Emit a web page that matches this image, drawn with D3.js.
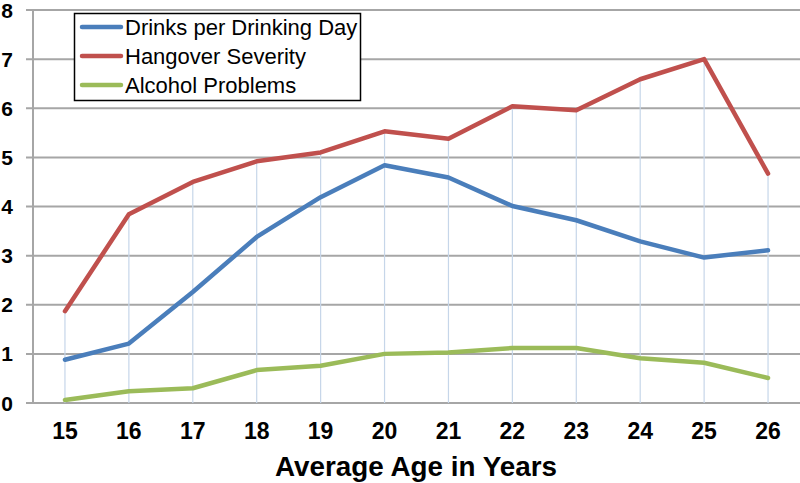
<!DOCTYPE html>
<html>
<head>
<meta charset="utf-8">
<script src="https://cdn.jsdelivr.net/npm/d3@7"></script>
<style>
  body { margin: 0; background: #fff; }
  svg { display: block; font-family: "Liberation Sans", Arial, sans-serif; }
</style>
</head>
<body>
<svg width="800" height="483"></svg>
<script>
// Chart data
const ages = [15, 16, 17, 18, 19, 20, 21, 22, 23, 24, 25, 26];
const drinksPerDay = [0.88, 1.21, 2.26, 3.38, 4.19, 4.84, 4.59, 4.01, 3.72, 3.29, 2.96, 3.11];
const hangoverSeverity = [1.87, 3.84, 4.5, 4.92, 5.1, 5.53, 5.38, 6.04, 5.96, 6.59, 7.0, 4.67];
const alcoholProblems = [0.06, 0.24, 0.3, 0.67, 0.76, 1.0, 1.03, 1.12, 1.12, 0.91, 0.82, 0.51];
const yTicks = [0, 1, 2, 3, 4, 5, 6, 7, 8];

const series = [
    { name: "Drinks per Drinking Day", values: drinksPerDay, color: "#4a7ebb" },
    { name: "Hangover Severity", values: hangoverSeverity, color: "#c0504d" },
    { name: "Alcohol Problems", values: alcoholProblems, color: "#9bbb59" }
];

const svg = d3.select("svg");
const plotLeft = 33, plotRight = 800, plotTop = 10, plotBottom = 403;

// Scales
const x = d3.scaleBand().domain(ages).range([plotLeft, plotRight]);
const y = d3.scaleLinear().domain([0, 8]).range([plotBottom, plotTop]);
const cx = d => x(d) + x.bandwidth() / 2;

// Horizontal gridlines
svg.append("g")
    .selectAll("line")
    .data(yTicks)
    .enter()
    .append("line")
    .attr("x1", plotLeft - 7)
    .attr("x2", plotRight)
    .attr("y1", d => y(d))
    .attr("y2", d => y(d))
    .attr("stroke", "#a6a6a6")
    .attr("stroke-width", 2);

// Left axis line
svg.append("line")
    .attr("x1", plotLeft).attr("x2", plotLeft)
    .attr("y1", plotTop).attr("y2", plotBottom + 1)
    .attr("stroke", "#a6a6a6")
    .attr("stroke-width", 2);

// Y tick labels
svg.append("g")
    .selectAll("text")
    .data(yTicks)
    .enter()
    .append("text")
    .attr("x", 13)
    .attr("y", d => y(d))
    .attr("dy", "0.36em")
    .attr("text-anchor", "end")
    .style("font-size", "21px")
    .style("font-weight", "bold")
    .text(d => d);

// Drop lines from the highest series down to the axis
const maxValues = ages.map((a, i) => d3.max(series, s => s.values[i]));
svg.append("g")
    .selectAll("line")
    .data(ages)
    .enter()
    .append("line")
    .attr("x1", d => cx(d))
    .attr("x2", d => cx(d))
    .attr("y1", (d, i) => y(maxValues[i]))
    .attr("y2", plotBottom)
    .attr("stroke", "#c6d6e9")
    .attr("stroke-width", 1.2);

// Series lines
const line = d3.line()
    .x((v, i) => cx(ages[i]))
    .y(v => y(v));

svg.append("g")
    .selectAll("path")
    .data(series)
    .enter()
    .append("path")
    .attr("d", d => line(d.values))
    .attr("fill", "none")
    .attr("stroke", d => d.color)
    .attr("stroke-width", 4.5)
    .attr("stroke-linejoin", "round")
    .attr("stroke-linecap", "round");

// X tick labels
svg.append("g")
    .selectAll("text")
    .data(ages)
    .enter()
    .append("text")
    .attr("x", d => cx(d))
    .attr("y", 439)
    .attr("text-anchor", "middle")
    .style("font-size", "23px")
    .style("font-weight", "bold")
    .text(d => d);

// X axis title
svg.append("text")
    .attr("x", 416)
    .attr("y", 476)
    .attr("text-anchor", "middle")
    .attr("textLength", 282)
    .attr("lengthAdjust", "spacingAndGlyphs")
    .style("font-size", "27px")
    .style("font-weight", "bold")
    .text("Average Age in Years");

// Legend
const legend = svg.append("g");
legend.append("rect")
    .attr("x", 74.5).attr("y", 13.5)
    .attr("width", 286).attr("height", 87)
    .attr("fill", "#fff")
    .attr("stroke", "#000")
    .attr("stroke-width", 1.5);

const rows = legend.selectAll(".row")
    .data(series)
    .enter()
    .append("g")
    .attr("class", "row")
    .attr("transform", (d, i) => `translate(0, ${27 + i * 29})`);

rows.append("line")
    .attr("x1", 82).attr("x2", 121)
    .attr("y1", 0).attr("y2", 0)
    .attr("stroke", d => d.color)
    .attr("stroke-width", 4.5)
    .attr("stroke-linecap", "round");

rows.append("text")
    .attr("x", 125)
    .attr("y", 0)
    .attr("dy", "0.36em")
    .style("font-size", "22px")
    .text(d => d.name);
</script>
</body>
</html>
